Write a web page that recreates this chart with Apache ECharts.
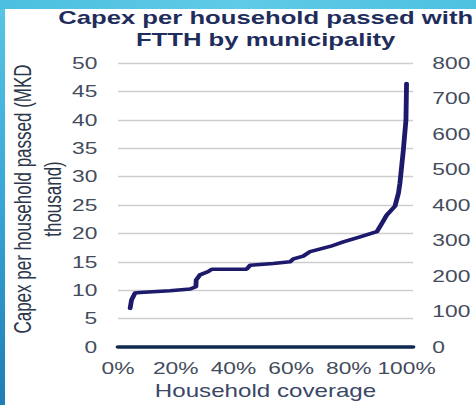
<!DOCTYPE html>
<html>
<head>
<meta charset="utf-8">
<script src="https://cdn.jsdelivr.net/npm/echarts@6/dist/echarts.min.js"></script>
<style>
  html, body { margin: 0; padding: 0; width: 476px; height: 405px; overflow: hidden; }
  body { position: relative; background: linear-gradient(180deg, #58c6e4 0%, #3aa9d9 45%, #1f7db7 100%); }
  #topband { position: absolute; left: 0; top: 0; width: 476px; height: 9px;
             background: linear-gradient(90deg, #4cbfe0 0%, #5fcbe6 50%, #4ec1e1 100%); }
  #panel { position: absolute; left: 5px; top: 9px; right: 0; bottom: 0; background: #ffffff; }
  /* the slide stretches the chart sideways */
  #chart { position: absolute; left: 0; top: 0; width: 345px; height: 405px;
           transform: scaleX(1.38); transform-origin: 0 0; }
</style>
</head>
<body>
<div id="topband"></div>
<div id="panel"></div>
<div id="chart"></div>
<script>
// Cumulative share of households covered (sorted municipalities)
const coverage = [
  0.042, 0.047, 0.059, 0.076, 0.180, 0.250, 0.270, 0.271, 0.284, 0.313,
  0.325, 0.446, 0.458, 0.538, 0.596, 0.608, 0.642, 0.666, 0.735, 0.781,
  0.839, 0.897, 0.908, 0.931, 0.960, 0.972, 0.977, 0.989, 0.998, 1.000
];
// Capex per household passed, MKD thousand
const capexPerHousehold = [
  6.8, 8.3, 9.5, 9.6, 9.9, 10.2, 10.6, 11.8, 12.7, 13.3,
  13.7, 13.7, 14.4, 14.7, 15.0, 15.5, 16.0, 16.8, 17.7, 18.5,
  19.4, 20.3, 21.2, 23.2, 24.8, 27.1, 28.8, 34.7, 40.0, 46.4
];

const titleLines = ['Capex per household passed with', 'FTTH by municipality'];
const leftAxisName = 'Capex per household passed (MKD\nthousand)';
const bottomAxisName = 'Household coverage';
const leftAxisRange = { min: 0, max: 50, interval: 5 };
const rightAxisRange = { min: 0, max: 800, interval: 100 };
const xAxisRange = { min: 0, max: 1.0225, interval: 0.2 };

const tickColor = '#434c5c';
const tickFont = 16.5;

const chart = echarts.init(document.getElementById('chart'), null, { renderer: 'svg' });

chart.setOption({
  animation: false,
  backgroundColor: 'transparent',
  graphic: [{
    type: 'text',
    x: 192.5,
    y: 7,
    style: {
      text: titleLines.join('\n'),
      align: 'center',
      verticalAlign: 'top',
      font: 'bold 18.6px "Liberation Sans", Arial, sans-serif',
      lineHeight: 22,
      fill: '#1f2d5c'
    }
  }],
  grid: { left: 85.5, right: 45.7, top: 63, bottom: 58, outerBoundsMode: 'none', containLabel: false },
  xAxis: {
    type: 'value',
    min: xAxisRange.min,
    max: xAxisRange.max,
    interval: xAxisRange.interval,
    name: bottomAxisName,
    nameLocation: 'middle',
    nameGap: 35,
    nameMoveOverlap: false,
    nameTextStyle: { fontFamily: 'Liberation Sans', fontSize: 17.5, color: '#3a4766' },
    axisLine: { show: true, onZero: false, lineStyle: { color: '#0f2a50', width: 3.5, cap: 'round' } },
    axisTick: { show: false },
    splitLine: { show: false },
    axisLabel: {
      margin: 13,
      fontFamily: 'Liberation Sans',
      fontSize: tickFont,
      color: tickColor,
      formatter: v => Math.abs(v * 5 - Math.round(v * 5)) < 1e-6 ? Math.round(v * 100) + '%' : ''
    }
  },
  yAxis: [{
    type: 'value',
    position: 'left',
    min: leftAxisRange.min,
    max: leftAxisRange.max,
    interval: leftAxisRange.interval,
    name: leftAxisName,
    nameLocation: 'middle',
    nameRotate: 90,
    nameGap: 37,
    nameMoveOverlap: false,
    nameTextStyle: { fontFamily: 'Liberation Sans', fontSize: 17, lineHeight: 21.7, color: '#2b3648', padding: [0, 0, 0, 12] },
    axisLine: { show: false },
    axisTick: { show: false },
    splitLine: { show: true, lineStyle: { color: '#cdcdcd', width: 1.3 } },
    axisLabel: { margin: 15, fontFamily: 'Liberation Sans', fontSize: tickFont, color: tickColor }
  }, {
    type: 'value',
    position: 'right',
    min: rightAxisRange.min,
    max: rightAxisRange.max,
    interval: rightAxisRange.interval,
    axisLine: { show: false },
    axisTick: { show: false },
    splitLine: { show: false },
    axisLabel: { margin: 14, fontFamily: 'Liberation Sans', fontSize: tickFont, color: tickColor }
  }],
  series: [{
    type: 'line',
    yAxisIndex: 0,
    data: coverage.map((c, i) => [c, capexPerHousehold[i]]),
    showSymbol: false,
    lineStyle: { color: '#1d1a6c', width: 3.5, cap: 'round', join: 'round' }
  }]
});
</script>
</body>
</html>
